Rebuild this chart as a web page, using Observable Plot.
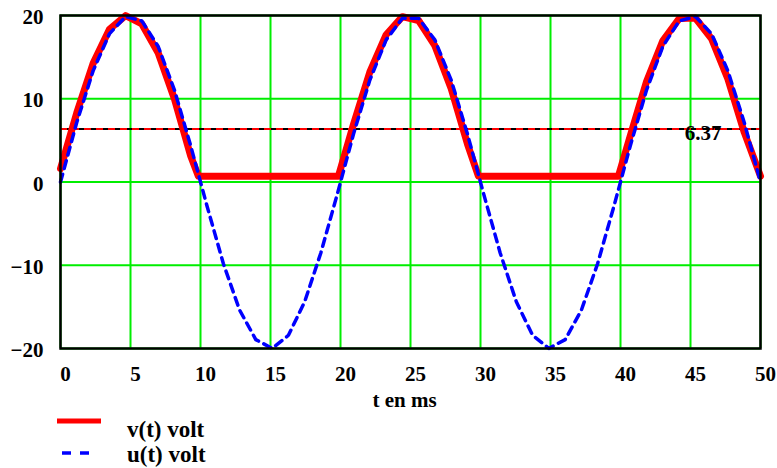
<!DOCTYPE html>
<html>
<head>
<meta charset="utf-8">
<script src="https://cdn.jsdelivr.net/npm/d3@7"></script>
<script src="https://cdn.jsdelivr.net/npm/@observablehq/plot@0.6"></script>
<style>
  html, body { margin: 0; padding: 0; background: #fff; }
  #wrap { position: relative; width: 777px; height: 468px; overflow: hidden; }
  #legend { position: absolute; left: 0; top: 0; width: 777px; height: 468px; pointer-events: none; }
</style>
</head>
<body>
<div id="wrap">
  <div id="chart"></div>
  <svg id="legend" width="777" height="468"></svg>
</div>
<script>
// time samples (ms) for u(t)
const tU = [0, 1.16, 2.33, 3.49, 4.65, 5.81, 6.98, 8.14, 9.30, 10.47, 11.63, 12.79, 13.95, 15.12, 16.28, 17.44, 18.60, 19.77, 20.93, 22.09, 23.26, 24.42, 25.58, 26.74, 27.91, 29.07, 30.23, 31.40, 32.56, 33.72, 34.88, 36.05, 37.21, 38.37, 39.53, 40.70, 41.86, 43.02, 44.19, 45.35, 46.51, 47.67, 48.84, 50.00];
// u(t) in volt
const uVals = [0, 7.15, 13.35, 17.79, 19.88, 19.35, 16.27, 11.04, 4.35, -2.91, -9.79, -15.37, -18.93, -19.99, -18.41, -14.39, -8.49, -1.46, 5.76, 12.22, 17.07, 19.67, 19.67, 17.07, 12.22, 5.76, -1.46, -8.49, -14.39, -18.41, -19.99, -18.93, -15.37, -9.79, -2.91, 4.35, 11.04, 16.27, 19.35, 19.88, 17.79, 13.35, 7.14, 0];
// time samples (ms) for v(t)
const tV = [0, 1.16, 2.33, 3.49, 4.65, 5.81, 6.98, 8.14, 9.30, 9.85, 19.85, 20.93, 22.09, 23.26, 24.42, 25.58, 26.74, 27.91, 29.07, 29.85, 39.85, 40.70, 41.86, 43.02, 44.19, 45.35, 46.51, 47.67, 48.84, 50.00];
// v(t) in volt
const vVals = [1.6, 8.3, 14.25, 18.33, 19.98, 18.99, 15.5, 9.97, 3.11, 0.7, 0.7, 6.95, 13.19, 17.69, 19.86, 19.4, 16.38, 11.2, 4.55, 0.7, 0.7, 5.57, 12.06, 16.97, 19.63, 19.7, 17.18, 12.38, 5.96, 0.7];

const xTicks = [0, 5, 10, 15, 20, 25, 30, 35, 40, 45, 50];
const yTicks = [-20, -10, 0, 10, 20];
const meanValue = 6.37;
const meanLabel = "6.37";
const xLabel = "t en ms";
const seriesNames = ["v(t) volt", "u(t) volt"];

const green = "#00ee00";
const serif = "'Liberation Serif'";

const chart = Plot.plot({
  width: 777,
  height: 412,
  marginTop: 15,
  marginLeft: 60,
  marginRight: 17,
  marginBottom: 64,
  style: { fontFamily: serif, fontWeight: "bold", fontSize: "21px", background: "white", color: "black" },
  x: { domain: [0, 50] },
  y: { domain: [-20, 20] },
  marks: [
    Plot.gridX(xTicks, { stroke: green, strokeOpacity: 1, strokeWidth: 2 }),
    Plot.gridY(yTicks, { stroke: green, strokeOpacity: 1, strokeWidth: 2 }),
    Plot.ruleY([meanValue], { stroke: "black", strokeWidth: 2 }),
    Plot.ruleY([meanValue], { stroke: "#ff0000", strokeWidth: 2, strokeDasharray: "7,5" }),
    Plot.line(tV, { x: tV, y: vVals, stroke: "#ff0000", strokeWidth: 7, curve: "linear" }),
    Plot.line(tU, { x: tU, y: uVals, stroke: "#0000ff", strokeWidth: 3.5, strokeDasharray: "8,6", curve: "linear" }),
    Plot.text([meanLabel], { x: 45.9, y: meanValue, text: d => d, dy: 4, fontSize: 21, fontWeight: "bold", fill: "black", fontFamily: serif }),
    Plot.axisX(xTicks, { tickSize: 0, tickPadding: 18, dx: 5, fontSize: 21, fontWeight: "bold", fontFamily: serif, label: null }),
    Plot.axisY(yTicks, { tickSize: 0, tickPadding: 17, dy: 2, fontSize: 21, fontWeight: "bold", fontFamily: serif, label: null }),
    Plot.text([xLabel], { frameAnchor: "bottom", text: d => d, dx: -6, dy: 58, fontSize: 21, fontWeight: "bold", fill: "black", fontFamily: serif }),
    Plot.frame({ stroke: "black", strokeWidth: 2.5 })
  ]
});
document.getElementById("chart").appendChild(chart);

// legend drawn below the plot
const lg = d3.select("#legend");
lg.append("line").attr("x1", 57).attr("x2", 101).attr("y1", 421).attr("y2", 421)
  .attr("stroke", "#ff0000").attr("stroke-width", 5);
lg.append("line").attr("x1", 62).attr("x2", 91).attr("y1", 453).attr("y2", 453)
  .attr("stroke", "#0000ff").attr("stroke-width", 3.5).attr("stroke-dasharray", "9,9");
lg.selectAll("text.lab").data(seriesNames).join("text")
  .attr("class", "lab")
  .attr("x", 127)
  .attr("y", (d, i) => 437 + i * 25)
  .style("font-family", serif)
  .style("font-weight", "bold")
  .style("font-size", "23px")
  .attr("fill", "black")
  .text(d => d);
</script>
</body>
</html>
